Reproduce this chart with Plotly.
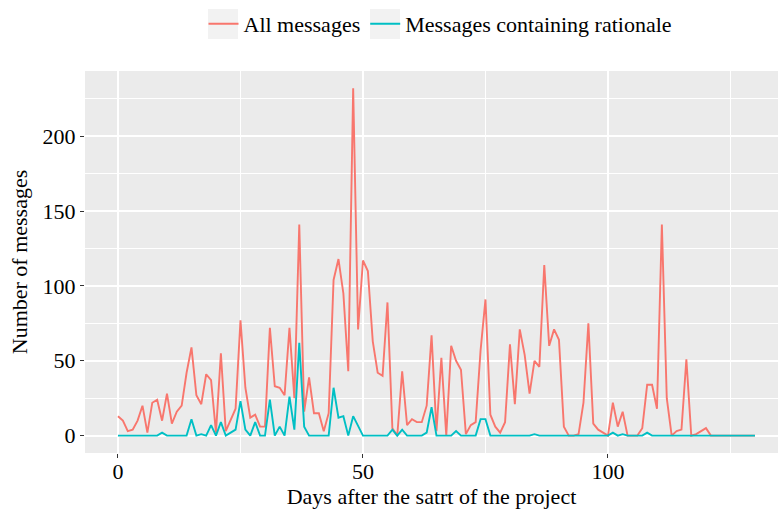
import plotly.graph_objects as go

days = list(range(0, 131))

all_messages = [
    13, 10, 3, 4, 10, 20, 2, 22, 24, 10,
    28, 8, 16, 20, 42, 59, 27, 21, 41, 37,
    2, 55, 3, 10, 18, 77, 32, 12, 14, 6,
    6, 72, 33, 32, 27, 72, 25, 141, 16, 39,
    15, 15, 3, 15, 104, 118, 95, 43, 232, 71,
    117, 110, 63, 42, 40, 89, 5, 0, 43, 7,
    11, 9, 9, 20, 67, 3, 52, 0, 60, 50,
    44, 1, 7, 9, 57, 91, 14, 6, 2, 9,
    61, 21, 71, 54, 28, 50, 46, 114, 60, 71,
    64, 6, 0, 0, 1, 22, 75, 8, 4, 2,
    0, 22, 6, 16, 0, 0, 0, 5, 34, 34,
    18, 141, 25, 0, 3, 4, 51, 0, 1, 3,
    5, 0, 0, 0, 0, 0, 0, 0, 0, 0,
    0,
]

rationale_messages = [
    0, 0, 0, 0, 0, 0, 0, 0, 0, 2,
    0, 0, 0, 0, 0, 11, 0, 1, 0, 7,
    0, 9, 0, 2, 4, 23, 4, 0, 9, 0,
    0, 24, 0, 6, 0, 26, 4, 62, 6, 0,
    0, 0, 0, 0, 32, 12, 13, 0, 13, 7,
    0, 0, 0, 0, 0, 0, 4, 0, 4, 0,
    0, 0, 0, 2, 19, 0, 0, 0, 0, 3,
    0, 0, 0, 0, 11, 11, 0, 0, 0, 0,
    0, 0, 0, 0, 0, 1, 0, 0, 0, 0,
    0, 0, 0, 0, 0, 0, 0, 0, 0, 0,
    0, 2, 0, 1, 0, 0, 0, 0, 2, 0,
    0, 0, 0, 0, 0, 0, 0, 0, 0, 0,
    0, 0, 0, 0, 0, 0, 0, 0, 0, 0,
    0,
]

series_names = ["All messages", "Messages containing rationale"]
x_title = "Days after the satrt of the project"
y_title = "Number of messages"
x_ticks = [0, 50, 100]
y_ticks = [0, 50, 100, 150, 200]

FONT = "Liberation Serif, Times New Roman, serif"

fig = go.Figure()
fig.add_trace(go.Scatter(x=days, y=all_messages, mode="lines", name=series_names[0],
                         line=dict(color="#F8766D", width=1.9)))
fig.add_trace(go.Scatter(x=days, y=rationale_messages, mode="lines", name=series_names[1],
                         line=dict(color="#00BFC4", width=1.9)))

# grey legend key backgrounds (ggplot style)
for x0 in (0.1775, 0.4113):
    fig.add_shape(type="rect", xref="paper", yref="paper",
                  x0=x0, x1=x0 + 0.0433, y0=1.0838, y1=1.1623,
                  fillcolor="#F2F2F2", line=dict(width=0), layer="below")

fig.update_layout(
    width=778, height=513,
    margin=dict(l=85, r=0, t=71, b=60),
    paper_bgcolor="white",
    plot_bgcolor="#EBEBEB",
    font=dict(family=FONT, size=22, color="black"),
    showlegend=True,
    legend=dict(orientation="h", x=0.513, xanchor="center", y=1.123, yanchor="middle",
                font=dict(size=22), bgcolor="rgba(0,0,0,0)", itemwidth=30),
)
fig.update_xaxes(
    range=[-6.73, 134.7], tickvals=x_ticks, ticks="outside", ticklen=4,
    tickcolor="#333333", tickwidth=1.2, showline=False, zeroline=False,
    gridcolor="white", gridwidth=2, ticklabelstandoff=-5,
    minor=dict(tickvals=[25, 75, 125], showgrid=True, gridcolor="white", gridwidth=1, ticks=""),
    title=dict(text=x_title, standoff=2, font=dict(size=22)), tickfont=dict(size=22),
)
fig.update_yaxes(
    range=[-11.6, 243.6], tickvals=y_ticks, ticks="outside", ticklen=4,
    tickcolor="#333333", tickwidth=1.2, showline=False, zeroline=False,
    gridcolor="white", gridwidth=2,
    minor=dict(tickvals=[25, 75, 125, 175, 225], showgrid=True, gridcolor="white", gridwidth=1, ticks=""),
    title=dict(text=y_title, standoff=8, font=dict(size=22)), tickfont=dict(size=22),
)

fig.write_html("out.html")
